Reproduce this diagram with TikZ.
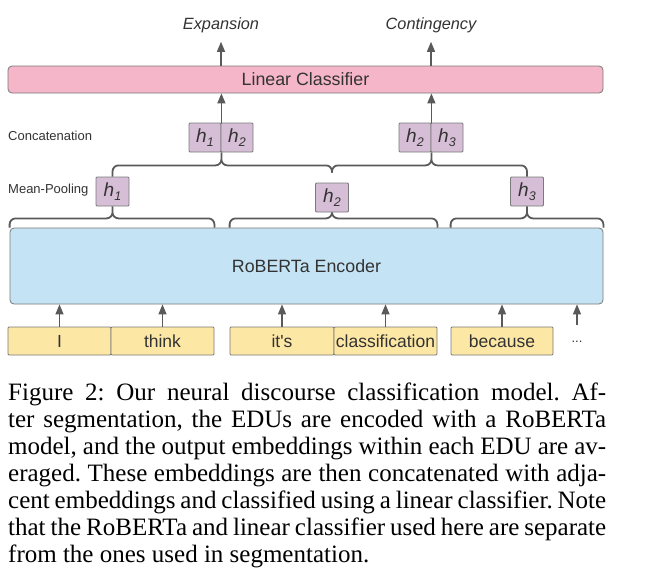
\documentclass[tikz,border=0pt]{standalone}
\usepackage{fontspec}
\setmainfont{Liberation Serif}
\newfontfamily\diagfont{Liberation Sans}
\usetikzlibrary{arrows.meta}
\definecolor{pinkfill}{HTML}{F4B6C8}
\definecolor{bluefill}{HTML}{C4E4F5}
\definecolor{mauvefill}{HTML}{D6BED6}
\definecolor{yellowfill}{HTML}{FCE7A5}
\definecolor{edgegray}{HTML}{7A7A7A}
\definecolor{linegray}{HTML}{5A5A5A}
\definecolor{textgray}{HTML}{333333}
\newcommand\hvar[1]{\textit{h}\kern0.3pt\raisebox{-3.5pt}{\fontsize{12.5}{12.5}\selectfont\itshape #1}}
\frenchspacing
\begin{document}
\begin{tikzpicture}[x=1pt,y=-1pt,
  box/.style={draw=edgegray, line width=0.8pt, inner sep=0pt, text=textgray,
    font=\diagfont\fontsize{17.8}{17.8}\selectfont},
  clsbox/.style={box, fill=pinkfill, rounded corners=4pt, minimum width=595pt, minimum height=27pt},
  encbox/.style={box, fill=bluefill, rounded corners=4pt, minimum width=593pt, minimum height=76pt},
  hbox/.style={box, fill=mauvefill, rounded corners=1pt, minimum width=32pt, minimum height=29pt,
    font=\diagfont\fontsize{19}{19}\selectfont},
  tok/.style={box, fill=yellowfill, rounded corners=1pt, minimum height=28pt,
    font=\diagfont\fontsize{17.5}{17.5}\selectfont},
  arr/.style={draw=linegray, line width=1.3pt, -{Triangle[length=10pt,width=8pt]}},
  brc/.style={draw=linegray, line width=1.8pt, rounded corners=6pt},
  lbl/.style={text=textgray, font=\diagfont\fontsize{13}{13}\selectfont, inner sep=0pt, anchor=west},
  outlbl/.style={text=textgray, font=\diagfont\itshape\fontsize{16.3}{16.3}\selectfont, inner sep=0pt},
  capline/.style={inner sep=0pt, anchor=base west, font=\fontsize{25}{27}\selectfont}
]
\fill[white] (0,0) rectangle (647,573);
\useasboundingbox (0,0) rectangle (647,573);

% outputs and classifier
\node[outlbl] (exp) at (221,25) {Expansion};
\node[outlbl] (cont) at (431,25) {Contingency};
\node[clsbox] (cls) at (305.5,79.5) {Linear Classifier};

% concatenation
\node[lbl] (lconc) at (8,136) {Concatenation};
\node[hbox] (c12a) at (205,137.5) {\hvar{1}};
\node[hbox] (c12b) at (237,137.5) {\hvar{2}};
\node[hbox] (c23a) at (415,137.5) {\hvar{2}};
\node[hbox] (c23b) at (447,137.5) {\hvar{3}};

% mean pooling
\node[lbl] (lmean) at (8,190) {Mean-Pooling};
\node[hbox, minimum width=33pt] (h1) at (112.5,191.5) {\hvar{1}};
\node[hbox, minimum width=33pt] (h2) at (332,197.5) {\hvar{2}};
\node[hbox, minimum width=33pt] (h3) at (527,191.5) {\hvar{3}};

% encoder
\node[encbox] (enc) at (306.5,266) {RoBERTa Encoder};

% tokens
\node[tok, minimum width=103pt] (tI) at (59.5,341) {I};
\node[tok, minimum width=103pt] (tThink) at (162.5,341) {think};
\node[tok, minimum width=104pt] (tIts) at (282,341) {it's};
\node[tok, minimum width=103pt] (tCls) at (385.5,341) {classification};
\node[tok, minimum width=102pt] (tBec) at (502,341) {because};
\node[lbl, anchor=center] (dots) at (577,342) {...};
\coordinate (more) at (577,325);

% arrows
\draw[arr] (tI.north) -- (tI.north |- enc.south);
\draw[arr] (tThink.north) -- (tThink.north |- enc.south);
\draw[arr] (tIts.north) -- (tIts.north |- enc.south);
\draw[arr] (tCls.north) -- (tCls.north |- enc.south);
\draw[arr] (tBec.north) -- (tBec.north |- enc.south);
\draw[arr] (more) -- (more |- enc.south);
\draw[arr] (c12a.north east) -- (c12a.north east |- cls.south);
\draw[arr] (c23a.north east) -- (c23a.north east |- cls.south);
\draw[arr, shorten >=9pt] (cls.north -| exp) -- (exp.south);
\draw[arr, shorten >=9pt] (cls.north -| cont) -- (cont.south);

% braces
\coordinate (upflat) at ([yshift=-13pt]c12a.south east);
\coordinate (lowflat) at ([yshift=-12pt]h1.south);
\draw[brc] (h1.north) |- (c12a.south east |- upflat) -- (c12a.south east)
           (c12a.south east) -- (c12a.south east |- upflat) -| ([yshift=10pt]h2.north);
\draw[brc] ([yshift=10pt]h2.north) |- (c23a.south east |- upflat) -- (c23a.south east)
           (c23a.south east) -- (c23a.south east |- upflat) -| (h3.north);
\draw[brc] (enc.north west) |- (h1.south |- lowflat) -- (h1.south)
           (h1.south) -- (h1.south |- lowflat) -| (tThink.east |- enc.north);
\draw[brc] (tIts.west |- enc.north) |- (h2.south |- lowflat) -- (h2.south)
           (h2.south) -- (h2.south |- lowflat) -| (tCls.east |- enc.north);
\draw[brc] (tBec.west |- enc.north) |- (h3.south |- lowflat) -- (h3.south)
           (h3.south) -- (h3.south |- lowflat) -| (enc.north east);

% caption
\node[capline] (cap1) at (8,400) {\makebox[598pt][s]{Figure 2: Our neural discourse classification model. Af-}};
\node[capline] (cap2) at (8,427) {\makebox[598pt][s]{ter segmentation, the EDUs are encoded with a RoBERTa}};
\node[capline] (cap3) at (8,454.1) {\makebox[598pt][s]{model, and the output embeddings within each EDU are av-}};
\node[capline] (cap4) at (8,481.2) {\makebox[598pt][s]{eraged. These embeddings are then concatenated with adja-}};
\node[capline] (cap5) at (8,508.3) {\makebox[598pt][s]{cent embeddings and classified using a linear classifier. Note}};
\node[capline] (cap6) at (8,535.4) {\makebox[598pt][s]{that the RoBERTa and linear classifier used here are separate}};
\node[capline] (cap7) at (8,562.5) {from the ones used in segmentation.};
\end{tikzpicture}
\end{document}
